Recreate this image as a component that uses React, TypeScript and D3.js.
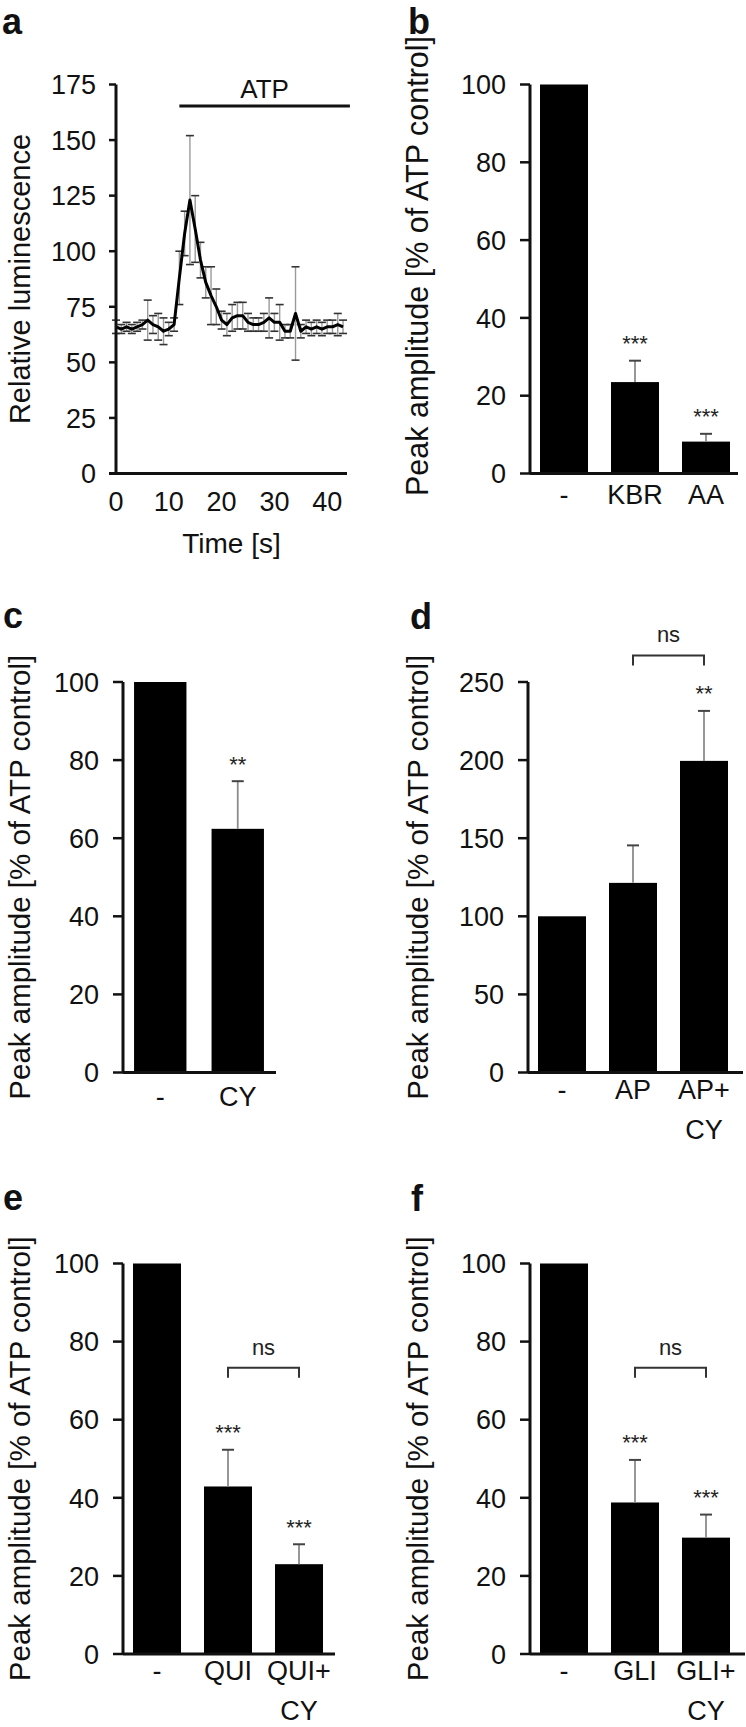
import React from 'react';
import * as d3 from 'd3';

const FONT = '"Liberation Sans", Arial, Helvetica, sans-serif';
const INK = '#111';

// ---------- Panel a: time course ----------
const timeS = [0, 1, 2, 3, 4, 5, 6, 7, 8, 9, 10, 11, 12, 13, 14, 15, 16, 17, 18, 19, 20, 21,
  22, 23, 24, 25, 26, 27, 28, 29, 30, 31, 32, 33, 34, 35, 36, 37, 38, 39, 40, 41, 42, 43];
const lumMean = [66, 65, 66, 65, 66, 67, 69, 67, 66, 64, 65, 67, 88, 108, 123, 110, 96, 86, 80, 75, 69, 67,
  70, 71, 71, 68, 67, 67, 68, 70, 68, 68, 64, 64, 72, 64, 66, 65, 66, 65, 66, 66, 67, 66];
const lumErr = [3, 2, 2, 2, 2, 2, 9, 4, 6, 6, 3, 3, 12, 10, 29, 15, 8, 7, 13, 8, 4, 5,
  6, 6, 6, 4, 3, 3, 4, 9, 4, 8, 3, 3, 21, 3, 3, 3, 3, 3, 3, 3, 5, 3];
const timeTicks = [0, 10, 20, 30, 40];
const lumTicks = [0, 25, 50, 75, 100, 125, 150, 175];
const atpStart = 12;
const atpEnd = 44.3;

// ---------- Bar panels ----------
const pctTicks100 = [0, 20, 40, 60, 80, 100];
const pctTicks250 = [0, 50, 100, 150, 200, 250];

const bCats = [['-'], ['KBR'], ['AA']];
const bValues = [100, 23.5, 8.2];
const bErrors = [0, 5.5, 2.0];
const bStars = ['', '***', '***'];

const cCats = [['-'], ['CY']];
const cValues = [100, 62.4];
const cErrors = [0, 12.2];
const cStars = ['', '**'];

const dCats = [['-'], ['AP'], ['AP+', 'CY']];
const dValues = [100, 121.4, 199.5];
const dErrors = [0, 24, 32];
const dStars = ['', '', '**'];
const dBracket = { from: 1, to: 2, level: 267, label: 'ns' };

const eCats = [['-'], ['QUI'], ['QUI+', 'CY']];
const eValues = [100, 42.9, 23.0];
const eErrors = [0, 9.4, 5.1];
const eStars = ['', '***', '***'];
const eBracket = { from: 1, to: 2, level: 73.3, label: 'ns' };

const fCats = [['-'], ['GLI'], ['GLI+', 'CY']];
const fValues = [100, 38.8, 29.8];
const fErrors = [0, 10.9, 5.9];
const fStars = ['', '***', '***'];
const fBracket = { from: 1, to: 2, level: 73.3, label: 'ns' };

const YLABEL = 'Peak amplitude [% of ATP control]';

function PanelA() {
  const axisX = 116;
  const xEnd = 347;
  const yTop = 84.5;
  const yZero = 473.5;
  const x = d3.scaleLinear().domain([0, 43.75]).range([axisX, xEnd]);
  const y = d3.scaleLinear().domain([0, 175]).range([yZero, yTop]);
  const pts = timeS.map((t, i) => [t, lumMean[i]] as [number, number]);
  const line = d3.line<[number, number]>().x(d => x(d[0])).y(d => y(d[1]));
  return (
    <g>
      <text x={2} y={34} fontSize={36} fontWeight="bold" fontFamily={FONT} fill={INK}>a</text>
      {/* ATP bar */}
      <line x1={x(atpStart)} x2={x(atpEnd)} y1={106} y2={106} stroke={INK} strokeWidth={3} />
      <text x={(x(atpStart) + x(atpEnd)) / 2} y={98} fontSize={26} textAnchor="middle" fontFamily={FONT} fill={INK}>ATP</text>
      {/* error bars */}
      {timeS.map((t, i) => {
        const cx = x(t);
        const hi = y(lumMean[i] + lumErr[i]);
        const lo = y(lumMean[i] - lumErr[i]);
        return (
          <g key={i}>
            <line x1={cx} x2={cx} y1={lo} y2={hi} stroke="#9a9a9a" strokeWidth={1.4} />
            <line x1={cx - 4} x2={cx + 4} y1={hi} y2={hi} stroke="#333" strokeWidth={1.6} />
            <line x1={cx - 4} x2={cx + 4} y1={lo} y2={lo} stroke="#333" strokeWidth={1.6} />
          </g>
        );
      })}
      <path d={line(pts) || ''} fill="none" stroke="#000" strokeWidth={3} strokeLinejoin="round" />
      {/* axes */}
      <line x1={axisX} x2={axisX} y1={yTop} y2={yZero} stroke={INK} strokeWidth={3} />
      <line x1={axisX - 7} x2={xEnd} y1={yZero} y2={yZero} stroke={INK} strokeWidth={3} />
      {lumTicks.map(t => (
        <g key={t}>
          <line x1={axisX - 7} x2={axisX} y1={y(t)} y2={y(t)} stroke={INK} strokeWidth={2.5} />
          <text x={axisX - 20} y={y(t)} dy="0.36em" textAnchor="end" fontSize={27} fontFamily={FONT} fill={INK}>{t}</text>
        </g>
      ))}
      {timeTicks.map(t => (
        <text key={t} x={x(t)} y={511} textAnchor="middle" fontSize={27} fontFamily={FONT} fill={INK}>{t}</text>
      ))}
      <text x={(axisX + xEnd) / 2} y={553} textAnchor="middle" fontSize={28} fontFamily={FONT} fill={INK}>Time [s]</text>
      <text transform={`translate(30,${(yTop + yZero) / 2}) rotate(-90)`} textAnchor="middle" fontSize={29} fontFamily={FONT} fill={INK}>Relative luminescence</text>
    </g>
  );
}

type Bracket = { from: number; to: number; level: number; label: string };

function BarPanel(props: {
  letter: string; letterX: number; letterY: number;
  cats: string[][]; values: number[]; errors: number[]; stars: string[];
  ticks: number[]; ymax: number;
  axisX: number; rangeEnd: number; xEnd: number; yTop: number; yZero: number;
  ylabelX: number; ylabelY?: number; ylabelSize?: number; labelOffset: number; bracket?: Bracket;
}) {
  const { letter, letterX, letterY, cats, values, errors, stars, ticks, ymax, axisX, rangeEnd, xEnd, yTop, yZero, ylabelX, labelOffset, bracket } = props;
  const keys = cats.map((c, i) => String(i));
  const x = d3.scaleBand<string>().domain(keys).range([axisX - 1.5, rangeEnd]).paddingInner(0.324).paddingOuter(0.162);
  const y = d3.scaleLinear().domain([0, ymax]).range([yZero, yTop]);
  const bw = x.bandwidth();
  const cxOf = (i: number) => (x(String(i)) as number) + bw / 2;
  const ylabelY = props.ylabelY ?? (yTop + yZero) / 2;
  const ylabelSize = props.ylabelSize ?? 29.5;
  return (
    <g>
      <text x={letterX} y={letterY} fontSize={36} fontWeight="bold" fontFamily={FONT} fill={INK}>{letter}</text>
      {values.map((v, i) => {
        const x0 = x(String(i)) as number;
        const cx = x0 + bw / 2;
        const top = y(v + errors[i]);
        return (
          <g key={i}>
            <rect x={x0} y={y(v)} width={bw} height={yZero - y(v)} fill="#000" />
            {errors[i] > 0 && (
              <g>
                <line x1={cx} x2={cx} y1={y(v)} y2={top} stroke="#8c8c8c" strokeWidth={1.8} />
                <line x1={cx - 6} x2={cx + 6} y1={top} y2={top} stroke="#444" strokeWidth={2} />
              </g>
            )}
            {stars[i] && (
              <text x={cx} y={top - 9.5} textAnchor="middle" fontSize={22} fontFamily={FONT} fill="#222">{stars[i]}</text>
            )}
            {cats[i].map((ln, j) => (
              <text key={j} x={cx} y={yZero + labelOffset + j * 40} textAnchor="middle" fontSize={27} fontFamily={FONT} fill={INK}>{ln}</text>
            ))}
          </g>
        );
      })}
      {bracket && (() => {
        const x1 = cxOf(bracket.from);
        const x2 = cxOf(bracket.to);
        const yb = y(bracket.level);
        return (
          <g>
            <path d={`M${x1},${yb + 10}V${yb}H${x2}V${yb + 10}`} fill="none" stroke="#333" strokeWidth={2} />
            <text x={(x1 + x2) / 2} y={yb - 13} textAnchor="middle" fontSize={22} fontFamily={FONT} fill="#222">{bracket.label}</text>
          </g>
        );
      })()}
      <line x1={axisX} x2={axisX} y1={yTop} y2={yZero} stroke={INK} strokeWidth={3} />
      <line x1={axisX} x2={xEnd} y1={yZero} y2={yZero} stroke={INK} strokeWidth={3} />
      {ticks.map(t => (
        <g key={t}>
          <line x1={axisX - 10} x2={axisX} y1={y(t)} y2={y(t)} stroke={INK} strokeWidth={2.5} />
          <text x={axisX - 24} y={y(t)} dy="0.36em" textAnchor="end" fontSize={27} fontFamily={FONT} fill={INK}>{t}</text>
        </g>
      ))}
      <text transform={`translate(${ylabelX},${ylabelY}) rotate(-90)`} textAnchor="middle" fontSize={ylabelSize} fontFamily={FONT} fill={INK}>{YLABEL}</text>
    </g>
  );
}

export default function App() {
  return (
    <svg width={746} height={1727} viewBox="0 0 746 1727" style={{ position: 'absolute', left: 0, top: 0, background: '#fff' }}>
      <rect width={746} height={1727} fill="#fff" />
      <PanelA />
      <BarPanel letter="b" letterX={408} letterY={34} cats={bCats} values={bValues} errors={bErrors} stars={bStars}
        ticks={pctTicks100} ymax={100} axisX={530} rangeEnd={741.5} xEnd={738} yTop={84.5} yZero={473.5}
        ylabelX={428} ylabelY={266} ylabelSize={30.5} labelOffset={30} />
      <BarPanel letter="c" letterX={3} letterY={628} cats={cCats} values={cValues} errors={cErrors} stars={cStars}
        ticks={pctTicks100} ymax={100} axisX={123} rangeEnd={276.5} xEnd={276} yTop={682} yZero={1072.5}
        ylabelX={30} labelOffset={33} />
      <BarPanel letter="d" letterX={410} letterY={629} cats={dCats} values={dValues} errors={dErrors} stars={dStars}
        ticks={pctTicks250} ymax={250} axisX={528} rangeEnd={739.5} xEnd={743} yTop={682} yZero={1072.5}
        ylabelX={428} labelOffset={26} bracket={dBracket} />
      <BarPanel letter="e" letterX={3} letterY={1210} cats={eCats} values={eValues} errors={eErrors} stars={eStars}
        ticks={pctTicks100} ymax={100} axisX={123} rangeEnd={334.5} xEnd={335} yTop={1263.5} yZero={1654}
        ylabelX={30} labelOffset={26} bracket={eBracket} />
      <BarPanel letter="f" letterX={411} letterY={1211} cats={fCats} values={fValues} errors={fErrors} stars={fStars}
        ticks={pctTicks100} ymax={100} axisX={530} rangeEnd={741.5} xEnd={745} yTop={1263.5} yZero={1654}
        ylabelX={428} labelOffset={26} bracket={fBracket} />
    </svg>
  );
}
